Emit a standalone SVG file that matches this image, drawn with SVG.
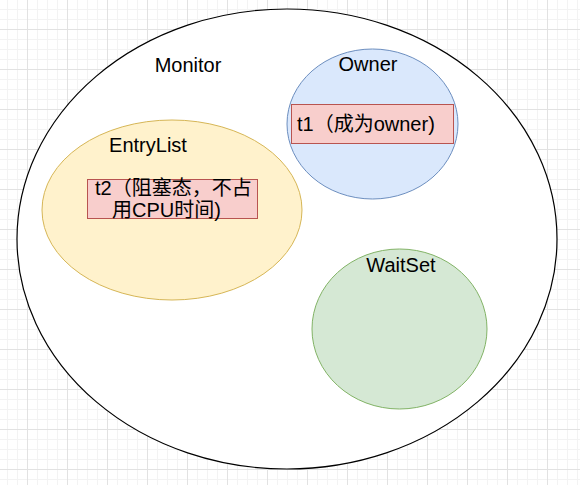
<svg xmlns="http://www.w3.org/2000/svg" width="580" height="485" viewBox="0 0 580 485">
  <defs>
    <pattern id="grid" x="27" y="29" width="40" height="40" patternUnits="userSpaceOnUse">
      <path d="M10.5 0V40M20.5 0V40M30.5 0V40M0 10.5H40M0 20.5H40M0 30.5H40" stroke="#f3f3f3" stroke-width="1" fill="none"/>
      <path d="M0.5 0V40M0 0.5H40" stroke="#e2e2e2" stroke-width="1" fill="none"/>
    </pattern>
    <style>
      text { font-family: "Liberation Sans", Arial, "Noto Sans CJK SC", sans-serif; font-size: 20px; fill: #000; }
      .mid { text-anchor: middle; }
      .rect { fill: #f8cecc; stroke: #b85450; stroke-width: 1; }
    </style>
  </defs>
  <rect width="580" height="485" fill="#ffffff"/>
  <rect width="580" height="485" fill="url(#grid)"/>

  <g id="monitor">
    <ellipse cx="287" cy="239" rx="270" ry="230" fill="#ffffff" stroke="#000000" stroke-width="1.2"/>
    <text class="mid" x="188" y="72">Monitor</text>
  </g>

  <g id="owner">
    <ellipse cx="372.5" cy="124" rx="85.5" ry="75" fill="#dae8fc" stroke="#6c8ebf" stroke-width="1"/>
    <text class="mid" x="368" y="71">Owner</text>
  </g>

  <g id="t1">
    <rect class="rect" x="291.5" y="104.5" width="162" height="39"/>
    <text x="297" y="131">t1（成为owner)</text>
  </g>

  <g id="entrylist">
    <ellipse cx="172" cy="210" rx="130" ry="90" fill="#fff2cc" stroke="#d6b656" stroke-width="1"/>
    <text class="mid" x="148" y="152">EntryList</text>
  </g>

  <g id="t2">
    <rect class="rect" x="87.5" y="179.5" width="170" height="39"/>
    <text x="95" y="195">t2（阻塞态，不占</text>
    <text x="112" y="217">用CPU时间)</text>
  </g>

  <g id="waitset">
    <ellipse cx="399.5" cy="329" rx="87.5" ry="80" fill="#d5e8d4" stroke="#82b366" stroke-width="1"/>
    <text class="mid" x="401" y="272">WaitSet</text>
  </g>

  <g id="connectors"></g>
</svg>
